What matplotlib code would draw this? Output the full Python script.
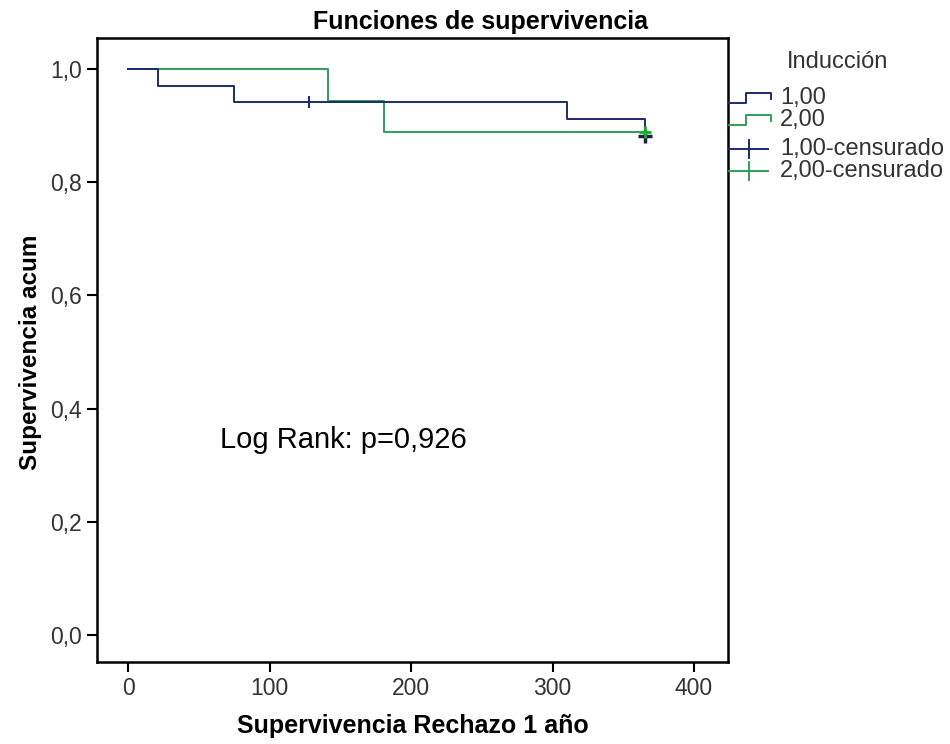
import matplotlib.pyplot as plt
from matplotlib.lines import Line2D
from matplotlib.ticker import FuncFormatter

plt.rcParams['font.family'] = ['Liberation Sans', 'DejaVu Sans']

# Kaplan-Meier steps per induction group
t_g1 = [0, 21, 75, 310, 365]
s_g1 = [1.0, 0.971, 0.941, 0.911, 0.881]
t_g2 = [0, 141, 181, 365]
s_g2 = [1.0, 0.944, 0.889, 0.889]

# censored observations
cens_t_g1 = [128, 365]
cens_s_g1 = [0.941, 0.881]
cens_t_g2 = [365]
cens_s_g2 = [0.889]

group_labels = ['1,00', '2,00', '1,00-censurado', '2,00-censurado']
x_ticks = [0, 100, 200, 300, 400]
y_ticks = [0.0, 0.2, 0.4, 0.6, 0.8, 1.0]

c1 = '#1c2a6e'
c2 = '#2f9e5c'
W, H = 950, 744

fig = plt.figure(figsize=(W / 100, H / 100), dpi=100)
ax = fig.add_axes([97 / W, 82 / H, 631 / W, 624 / H])

ax.plot(t_g2, s_g2, drawstyle='steps-post', color=c2, lw=1.4)
ax.plot(t_g1, s_g1, drawstyle='steps-post', color=c1, lw=1.4)
ax.plot(cens_t_g1[:1], cens_s_g1[:1], ls='none', marker='|', ms=9, mew=1.5, color=c1)
ax.plot(cens_t_g1[1:], cens_s_g1[1:], ls='none', marker='+', ms=10, mew=2.5, color='#1a1f40')
ax.plot(cens_t_g2, cens_s_g2, ls='none', marker='+', ms=9, mew=2, color='#1faa30')

x0, x1 = -22, 424
y0, y1 = -0.048, 1.055
ax.set_xlim(x0, x1)
ax.set_ylim(y0, y1)
ax.set_xticks(x_ticks)
ax.set_yticks(y_ticks)
ax.yaxis.set_major_formatter(FuncFormatter(lambda v, p: f'{v:.1f}'.replace('.', ',')))
ax.tick_params(direction='out', length=7, width=1.5, labelsize=16.5, labelcolor='#333333', pad=4)
for sp in ax.spines.values():
    sp.set_linewidth(1.8)

ax.set_xlabel('Supervivencia Rechazo 1 año', fontsize=18, fontweight='bold', labelpad=10)
ax.set_ylabel('Supervivencia acum', fontsize=17.5, fontweight='bold', labelpad=6)
ax.yaxis.label.set_y((0.5 - y0) / (y1 - y0))

fig.text(0.506, 0.987, 'Funciones de supervivencia', fontsize=18, fontweight='bold',
         ha='center', va='top')

ax.text(65, 0.33, 'Log Rank: p=0,926', fontsize=21)


# legend drawn in pixel space to the right of the plot
def px(x, y):
    return x / W, 1 - y / H


def leg_line(xs, ys, color):
    fx, fy = zip(*[px(a, b) for a, b in zip(xs, ys)])
    fig.add_artist(Line2D(fx, fy, color=color, lw=1.4, transform=fig.transFigure))


fig.text(*px(838, 62), 'Inducción', fontsize=17, color='#333333', ha='center', va='center')
rows = [98, 120, 149, 171]
colors = [c1, c2, c1, c2]
for i, (yy, lab, col) in enumerate(zip(rows, group_labels, colors)):
    if i < 2:
        leg_line([729, 746, 746, 771, 771], [yy + 5, yy + 5, yy - 5, yy - 5, yy + 1], col)
    else:
        leg_line([729, 768], [yy, yy], col)
        leg_line([749, 749], [yy - 9, yy + 9], col)
    fig.text(*px(780, yy), lab, fontsize=17, color='#333333', ha='left', va='center')

fig.savefig('out.png', dpi=100)
